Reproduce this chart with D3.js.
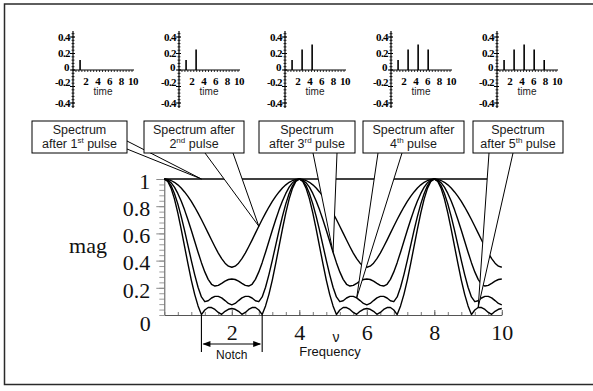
<!DOCTYPE html>
<html>
<head>
<meta charset="utf-8">
<script src="https://cdn.jsdelivr.net/npm/d3@7"></script>
<style>
  html, body { margin: 0; padding: 0; background: #fff; }
  svg { display: block; }
</style>
</head>
<body>
<svg id="chart" width="593" height="391"></svg>
<script>
// ---------------------------------------------------------------
// Data
// ---------------------------------------------------------------

// frequency samples (ν) shared by the spectra
const freq = [
  0, 0.1, 0.2, 0.3, 0.4, 0.5, 0.6, 0.7, 0.8, 0.9, 1, 1.1, 1.2, 1.3, 1.4, 1.5, 1.6, 1.7, 1.8, 1.9, 2,
  2.1, 2.2, 2.3, 2.4, 2.5, 2.6, 2.7, 2.8, 2.9, 3, 3.1, 3.2, 3.3, 3.4, 3.5, 3.6, 3.7, 3.8, 3.9, 4,
  4.1, 4.2, 4.3, 4.4, 4.5, 4.6, 4.7, 4.8, 4.9, 5, 5.1, 5.2, 5.3, 5.4, 5.5, 5.6, 5.7, 5.8, 5.9, 6,
  6.1, 6.2, 6.3, 6.4, 6.5, 6.6, 6.7, 6.8, 6.9, 7, 7.1, 7.2, 7.3, 7.4, 7.5, 7.6, 7.7, 7.8, 7.9, 8,
  8.1, 8.2, 8.3, 8.4, 8.5, 8.6, 8.7, 8.8, 8.9, 9, 9.1, 9.2, 9.3, 9.4, 9.5, 9.6, 9.7, 9.8, 9.9, 10
];

// spectrum after the 1st pulse is flat
const flatFreq = [0, 10];
const magAfter1 = [1, 1];

const magAfter2 = [
  1, 0.997, 0.989, 0.976, 0.957, 0.934, 0.905, 0.872, 0.835, 0.794, 0.749, 0.702, 0.653, 0.602, 0.551, 0.502, 0.455, 0.414, 0.381, 0.359, 0.351,
  0.359, 0.381, 0.414, 0.455, 0.502, 0.551, 0.602, 0.653, 0.702, 0.749, 0.794, 0.835, 0.872, 0.905, 0.934, 0.957, 0.976, 0.989, 0.997, 1,
  0.997, 0.989, 0.976, 0.957, 0.934, 0.905, 0.872, 0.835, 0.794, 0.749, 0.702, 0.653, 0.602, 0.551, 0.502, 0.455, 0.414, 0.381, 0.359, 0.351,
  0.359, 0.381, 0.414, 0.455, 0.502, 0.551, 0.602, 0.653, 0.702, 0.749, 0.794, 0.835, 0.872, 0.905, 0.934, 0.957, 0.976, 0.989, 0.997, 1,
  0.997, 0.989, 0.976, 0.957, 0.934, 0.905, 0.872, 0.835, 0.794, 0.749, 0.702, 0.653, 0.602, 0.551, 0.502, 0.455, 0.414, 0.381, 0.359, 0.351
];

const magAfter3 = [
  1, 0.993, 0.973, 0.940, 0.894, 0.838, 0.773, 0.700, 0.623, 0.542, 0.462, 0.385, 0.317, 0.262, 0.226, 0.213, 0.218, 0.233, 0.249, 0.261, 0.265,
  0.261, 0.249, 0.233, 0.218, 0.213, 0.226, 0.262, 0.317, 0.385, 0.462, 0.542, 0.623, 0.700, 0.773, 0.838, 0.894, 0.940, 0.973, 0.993, 1,
  0.993, 0.973, 0.940, 0.894, 0.838, 0.773, 0.700, 0.623, 0.542, 0.462, 0.385, 0.317, 0.262, 0.226, 0.213, 0.218, 0.233, 0.249, 0.261, 0.265,
  0.261, 0.249, 0.233, 0.218, 0.213, 0.226, 0.262, 0.317, 0.385, 0.462, 0.542, 0.623, 0.700, 0.773, 0.838, 0.894, 0.940, 0.973, 0.993, 1,
  0.993, 0.973, 0.940, 0.894, 0.838, 0.773, 0.700, 0.623, 0.542, 0.462, 0.385, 0.317, 0.262, 0.226, 0.213, 0.218, 0.233, 0.249, 0.261, 0.265
];

const magAfter4 = [
  1, 0.988, 0.952, 0.894, 0.817, 0.725, 0.622, 0.512, 0.402, 0.297, 0.204, 0.133, 0.098, 0.105, 0.125, 0.137, 0.137, 0.126, 0.106, 0.085, 0.075,
  0.085, 0.106, 0.126, 0.137, 0.137, 0.125, 0.105, 0.098, 0.133, 0.204, 0.297, 0.402, 0.512, 0.622, 0.725, 0.817, 0.894, 0.952, 0.988, 1,
  0.988, 0.952, 0.894, 0.817, 0.725, 0.622, 0.512, 0.402, 0.297, 0.204, 0.133, 0.098, 0.105, 0.125, 0.137, 0.137, 0.126, 0.106, 0.085, 0.075,
  0.085, 0.106, 0.126, 0.137, 0.137, 0.125, 0.105, 0.098, 0.133, 0.204, 0.297, 0.402, 0.512, 0.622, 0.725, 0.817, 0.894, 0.952, 0.988, 1,
  0.988, 0.952, 0.894, 0.817, 0.725, 0.622, 0.512, 0.402, 0.297, 0.204, 0.133, 0.098, 0.105, 0.125, 0.137, 0.137, 0.126, 0.106, 0.085, 0.075
];

const magAfter5 = [
  1, 0.983, 0.933, 0.854, 0.751, 0.632, 0.505, 0.377, 0.257, 0.152, 0.067, 0.003, 0.037, 0.055, 0.055, 0.041, 0.019, 0.005, 0.027, 0.042, 0.048,
  0.042, 0.027, 0.005, 0.019, 0.041, 0.055, 0.055, 0.037, 0.003, 0.067, 0.152, 0.257, 0.377, 0.505, 0.632, 0.751, 0.854, 0.933, 0.983, 1,
  0.983, 0.933, 0.854, 0.751, 0.632, 0.505, 0.377, 0.257, 0.152, 0.067, 0.003, 0.037, 0.055, 0.055, 0.041, 0.019, 0.005, 0.027, 0.042, 0.048,
  0.042, 0.027, 0.005, 0.019, 0.041, 0.055, 0.055, 0.037, 0.003, 0.067, 0.152, 0.257, 0.377, 0.505, 0.632, 0.751, 0.854, 0.933, 0.983, 1,
  0.983, 0.933, 0.854, 0.751, 0.632, 0.505, 0.377, 0.257, 0.152, 0.067, 0.003, 0.037, 0.055, 0.055, 0.041, 0.019, 0.005, 0.027, 0.042, 0.048
];

// pulse sequence drawn in the small time plots
const pulseTimes = [1.2, 2.9, 4.6, 6.3, 8.0];
const pulseHeights = [0.12, 0.25, 0.31, 0.25, 0.12];

// tick labels
const magTicks = [0.2, 0.4, 0.6, 0.8, 1];
const freqTicks = [2, 4, 6, 8, 10];
const timeTicks = [2, 4, 6, 8, 10];
const ampTicks = [0.4, 0.2, 0, -0.2, -0.4];

// callout texts: odd-indexed pieces are superscripts
const calloutLines = [
  [["Spectrum"], ["after 1", "st", " pulse"]],
  [["Spectrum after"], ["2", "nd", " pulse"]],
  [["Spectrum"], ["after 3", "rd", " pulse"]],
  [["Spectrum after"], ["4", "th", " pulse"]],
  [["Spectrum"], ["after 5", "th", " pulse"]]
];
// which spectrum each callout points to, and at which frequency
const calloutCurve = [0, 1, 2, 3, 4];
const calloutFreq = [1.1, 2.8, 5.0, 5.7, 9.3];

// edges of the stop band of the 5-pulse spectrum
const notchFreq = [1.1, 2.9];

// ---------------------------------------------------------------
// Drawing
// ---------------------------------------------------------------
const svg = d3.select("#chart");
const SERIF = "'Liberation Serif', 'Times New Roman', serif";
const SANS = "'Liberation Sans', Arial, Helvetica, sans-serif";

// outer frame
svg.append("rect")
  .attr("x", 4.5).attr("y", 4)
  .attr("width", 640).attr("height", 380.5)
  .attr("fill", "#fff").attr("stroke", "#2a2a2a").attr("stroke-width", 1.5);

// ---------- small time plots ----------
const ix = d3.scaleLinear([0, 10], [0, 59]);
const iy = d3.scaleLinear([-0.4, 0.4], [103, 37]);

pulseTimes.forEach((_, k) => {
  const g = svg.append("g").attr("transform", `translate(${73 + 106 * k},0)`);

  // vertical axis with ruler ticks
  g.append("line").attr("x1", 0).attr("x2", 0).attr("y1", 31).attr("y2", 108)
    .attr("stroke", "#000").attr("stroke-width", 1.2);
  g.selectAll("line.ymin").data(d3.range(-0.44, 0.441, 0.04)).join("line")
    .attr("class", "ymin")
    .attr("x1", -1.5).attr("x2", 1.5)
    .attr("y1", d => iy(d)).attr("y2", d => iy(d))
    .attr("stroke", "#000").attr("stroke-width", 0.8);
  g.selectAll("line.ymaj").data(ampTicks).join("line")
    .attr("class", "ymaj")
    .attr("x1", -3).attr("x2", 2)
    .attr("y1", d => iy(d)).attr("y2", d => iy(d))
    .attr("stroke", "#000").attr("stroke-width", 1);

  // horizontal axis at zero
  g.append("line").attr("x1", 0).attr("x2", ix(10) + 2).attr("y1", iy(0)).attr("y2", iy(0))
    .attr("stroke", "#000").attr("stroke-width", 1.2);
  g.selectAll("line.xmin").data(d3.range(0.5, 10.01, 0.5)).join("line")
    .attr("class", "xmin")
    .attr("x1", d => ix(d)).attr("x2", d => ix(d))
    .attr("y1", iy(0)).attr("y2", iy(0) + 2)
    .attr("stroke", "#000").attr("stroke-width", 0.8);

  // amplitude labels
  g.selectAll("text.amp").data(ampTicks).join("text")
    .attr("class", "amp")
    .attr("x", d => d === 0 ? -4 : -3)
    .attr("y", d => iy(d))
    .attr("dy", d => d === 0 ? "0.1em" : (d === -0.2 ? "-0.05em" : "0.35em"))
    .attr("text-anchor", "end")
    .attr("font-family", SERIF).attr("font-weight", "bold").attr("font-size", 11)
    .attr("letter-spacing", -0.6)
    .text(d => String(d));

  // time labels
  g.selectAll("text.time").data(timeTicks).join("text")
    .attr("class", "time")
    .attr("x", d => ix(d) + 1)
    .attr("y", iy(0) + 15)
    .attr("text-anchor", "middle")
    .attr("font-family", SERIF).attr("font-weight", "bold").attr("font-size", 11)
    .attr("letter-spacing", -0.6)
    .text(d => d);

  g.append("text")
    .attr("x", 30).attr("y", iy(0) + 25)
    .attr("text-anchor", "middle")
    .attr("font-family", SANS).attr("font-size", 10).attr("fill", "#222")
    .text("time");

  // pulses received so far
  g.selectAll("line.pulse").data(pulseTimes.slice(0, k + 1)).join("line")
    .attr("class", "pulse")
    .attr("x1", d => ix(d)).attr("x2", d => ix(d))
    .attr("y1", iy(0)).attr("y2", (d, i) => iy(pulseHeights[i]))
    .attr("stroke", "#000").attr("stroke-width", 1.6);
});

// ---------- main spectrum plot ----------
const x = d3.scaleLinear([0, 10], [164.3, 501.8]);
const y = d3.scaleLinear([0, 1], [315, 179]);

// magnitude axis: minor ticks, then labelled ticks
svg.append("g").attr("transform", `translate(${x(0)},0)`).attr("color", "#9a9a9a")
  .call(d3.axisLeft(y).tickValues(d3.range(0, 1.0001, 0.04)).tickSize(5).tickSizeOuter(0).tickFormat(""))
  .call(g => g.select(".domain").remove());
const gy = svg.append("g").attr("transform", `translate(${x(0)},0)`).attr("color", "#8a8a8a")
  .call(d3.axisLeft(y).tickValues(magTicks).tickSize(8).tickSizeOuter(0).tickPadding(6)
    .tickFormat(d => String(d)));
gy.select(".domain").attr("stroke", "#555");
gy.selectAll("text")
  .attr("fill", "#111").attr("font-family", SERIF).attr("font-size", 22)
  .attr("dy", "0.42em");

// frequency axis
svg.append("g").attr("transform", `translate(0,${y(0)})`).attr("color", "#777")
  .call(d3.axisBottom(x).tickValues(d3.range(0, 10.001, 0.4)).tickSize(-3).tickSizeOuter(0).tickFormat(""))
  .call(g => g.select(".domain").remove());
const gx = svg.append("g").attr("transform", `translate(0,${y(0)})`).attr("color", "#666")
  .call(d3.axisBottom(x).tickValues(freqTicks).tickSize(-5).tickSizeOuter(0).tickPadding(9.5)
    .tickFormat(d => String(d)));
gx.select(".domain").attr("stroke", "#555");
gx.selectAll("text")
  .attr("fill", "#111").attr("font-family", SERIF).attr("font-size", 22);

// shared origin label
svg.append("text")
  .attr("x", x(0) - 19).attr("y", y(0) + 16)
  .attr("text-anchor", "middle")
  .attr("font-family", SERIF).attr("font-size", 22).attr("fill", "#111")
  .text("0");

// spectra
const spectra = [
  [flatFreq, magAfter1],
  [freq, magAfter2],
  [freq, magAfter3],
  [freq, magAfter4],
  [freq, magAfter5]
];
const line = d3.line().x(d => x(d[0])).y(d => y(d[1]));
svg.append("g").selectAll("path").data(spectra).join("path")
  .attr("d", s => line(d3.zip(s[0], s[1])))
  .attr("fill", "none").attr("stroke", "#000").attr("stroke-width", 1.4)
  .attr("stroke-linejoin", "round");

// axis titles
svg.append("text")
  .attr("x", 107).attr("y", 253)
  .attr("text-anchor", "end")
  .attr("font-family", SERIF).attr("font-size", 22).attr("fill", "#111")
  .text("mag");
svg.append("text")
  .attr("x", 336).attr("y", 342)
  .attr("text-anchor", "middle")
  .attr("font-family", SANS).attr("font-size", 14).attr("fill", "#111")
  .text("ν");
svg.append("text")
  .attr("x", 330).attr("y", 356)
  .attr("text-anchor", "middle")
  .attr("font-family", SANS).attr("font-size", 13).attr("fill", "#111")
  .text("Frequency");

// notch marker
const notch = svg.append("g").attr("stroke", "#000").attr("stroke-width", 1.1);
notch.selectAll("line.edge").data(notchFreq).join("line")
  .attr("class", "edge")
  .attr("x1", d => x(d)).attr("x2", d => x(d))
  .attr("y1", y(0)).attr("y2", y(0) + 37);
const ay = y(0) + 29;
notch.append("line")
  .attr("x1", x(notchFreq[0]) + 2).attr("x2", x(notchFreq[1]) - 2)
  .attr("y1", ay).attr("y2", ay);
notch.append("path")
  .attr("d", `M${x(notchFreq[0]) + 1},${ay} l8,-3 l0,6 Z M${x(notchFreq[1]) - 1},${ay} l-8,-3 l0,6 Z`)
  .attr("fill", "#000").attr("stroke", "none");
svg.append("text")
  .attr("x", (x(notchFreq[0]) + x(notchFreq[1])) / 2).attr("y", 359)
  .attr("text-anchor", "middle")
  .attr("font-family", SANS).attr("font-size", 12).attr("fill", "#111")
  .text("Notch");

// ---------- callouts ----------
// box placement and where each pointer leaves its box
const calloutBoxes = [
  { x: 32, y: 121, w: 95, h: 32, base: [[95, 20], [95, 28]] },
  { x: 144, y: 121, w: 100, h: 32, base: [[61, 32], [89, 32]] },
  { x: 259, y: 121, w: 96, h: 32, base: [[54, 32], [78, 32]] },
  { x: 363, y: 121, w: 101, h: 32, base: [[15, 32], [39, 32]] },
  { x: 473, y: 121, w: 90, h: 32, base: [[16, 32], [40, 32]] }
];

calloutBoxes.forEach((b, i) => {
  const s = spectra[calloutCurve[i]];
  const f = calloutFreq[i];
  const j = s[0].indexOf(f);
  const val = j >= 0 ? s[1][j] : s[1][0];
  const tip = [x(f), y(val)];
  const p1 = [b.x + b.base[0][0], b.y + b.base[0][1]];
  const p2 = [b.x + b.base[1][0], b.y + b.base[1][1]];
  const g = svg.append("g");
  g.append("path")
    .attr("d", `M${p1[0]},${p1[1]} L${tip[0]},${tip[1]} L${p2[0]},${p2[1]} Z`)
    .attr("fill", "#fff").attr("stroke", "none");
  g.append("path")
    .attr("d", `M${p1[0]},${p1[1]} L${tip[0]},${tip[1]} L${p2[0]},${p2[1]}`)
    .attr("fill", "none").attr("stroke", "#000").attr("stroke-width", 1)
    .attr("stroke-linejoin", "miter");
  g.append("rect")
    .attr("x", b.x).attr("y", b.y).attr("width", b.w).attr("height", b.h)
    .attr("fill", "#fff").attr("stroke", "#000").attr("stroke-width", 1);

  calloutLines[i].forEach((pieces, li) => {
    const t = g.append("text")
      .attr("x", b.x + b.w / 2).attr("y", b.y + 13 + li * 13.5)
      .attr("text-anchor", "middle")
      .attr("font-family", SANS).attr("font-size", 12.5).attr("fill", "#1a1a1a");
    pieces.forEach((p, pi) => {
      const sup = pi % 2 === 1;
      const ts = t.append("tspan").text(p);
      if (sup) ts.attr("font-size", 8).attr("dy", -4.5);
      else if (pi > 0) ts.attr("dy", 4.5);
    });
  });
});
</script>
</body>
</html>
